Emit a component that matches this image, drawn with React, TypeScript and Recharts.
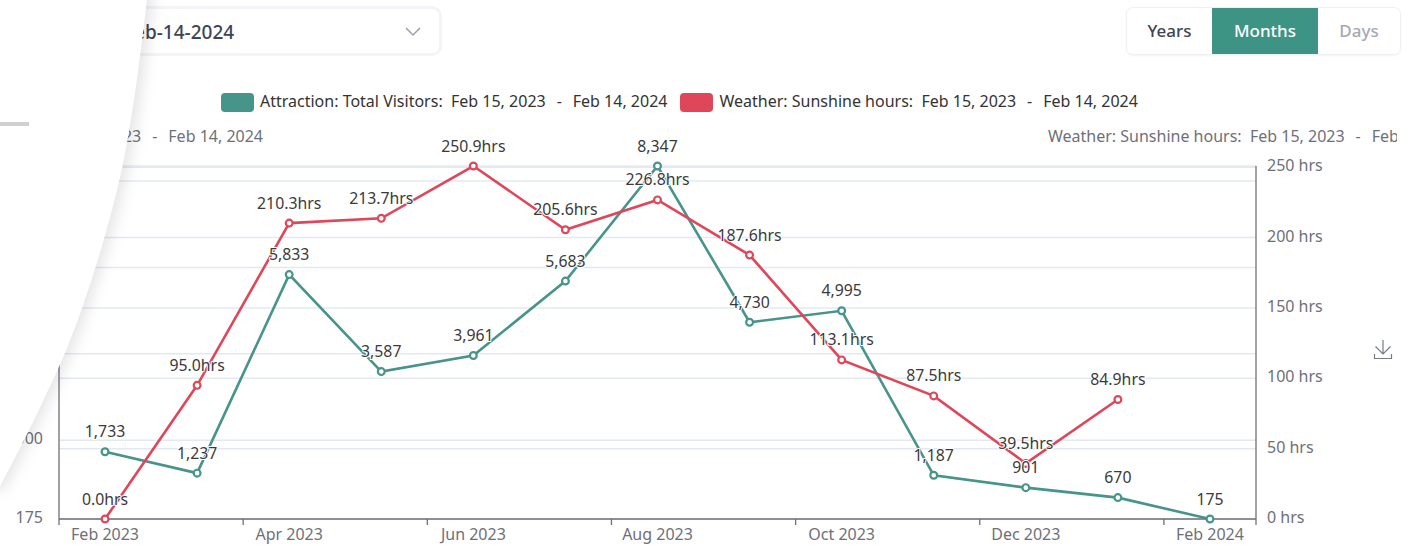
import React from "react";
import { ComposedChart, Line, XAxis, YAxis, CartesianGrid, LabelList } from "recharts";

const months = ["Feb 2023","Mar 2023","Apr 2023","May 2023","Jun 2023","Jul 2023","Aug 2023","Sep 2023","Oct 2023","Nov 2023","Dec 2023","Jan 2024","Feb 2024"];
const visitors = [1733,1237,5833,3587,3961,5683,8347,4730,4995,1187,901,670,175];
const sunshine: (number | null)[] = [0,95.0,210.3,213.7,250.9,205.6,226.8,187.6,113.1,87.5,39.5,84.9,null];
const leftTicks = [175,2000,4000,6000,8000,8347];
const rightTicks = [0,50,100,150,200,250];
const visitorsName = "Attraction: Total Visitors:\u00a0\u00a0Feb 15, 2023\u00a0\u00a0\u2009-\u2009\u00a0\u00a0Feb 14, 2024";
const sunshineName = "Weather: Sunshine hours:\u00a0\u00a0Feb 15, 2023\u00a0\u00a0\u2009-\u2009\u00a0\u00a0Feb 14, 2024";

const data = months.map((m, i) => ({ month: m, visitors: visitors[i], sunshine: sunshine[i] }));

const FONT = '"Noto Sans", sans-serif';
const GREEN = "#46948a";
const RED = "#e0465a";
const AXIS = "#6e7079";
const GRID = "#e3e8f3";
const W = 1411, H = 546;
const PLOT_LEFT = 59, PLOT_RIGHT = 155;
const HALF_BAND = (W - PLOT_LEFT - PLOT_RIGHT) / months.length / 2;

const XTick = (p: any) => {
  const { x, payload } = p;
  const axisY = 519;
  const last = payload.value === months[months.length - 1];
  return (
    <g>
      <line x1={x - HALF_BAND} x2={x - HALF_BAND} y1={axisY} y2={axisY + 6} stroke={AXIS} strokeWidth={1.3} />
      {last && <line x1={x + HALF_BAND} x2={x + HALF_BAND} y1={axisY} y2={axisY + 6} stroke={AXIS} strokeWidth={1.3} />}
      <text x={x} y={axisY + 21} textAnchor="middle" fill={AXIS} fontSize={16} fontFamily={FONT}>{payload.value}</text>
    </g>
  );
};

const haloLabel = (fmt: (v: number) => string) => (p: any) => {
  const { x, y, value } = p;
  if (value === null || value === undefined) return null;
  return (
    <text x={x} y={y - 14.5} textAnchor="middle" fill="#3a3a3a" fontSize={15.8} fontFamily={FONT}
      stroke="#fff" strokeWidth={2} paintOrder="stroke" strokeLinejoin="round">{fmt(value)}</text>
  );
};

const abs = (s: React.CSSProperties): React.CSSProperties => ({ position: "absolute", ...s });

export default function App() {
  return (
    <div style={abs({ left: 0, top: 0, width: W, height: H, overflow: "hidden", background: "#fff", fontFamily: FONT })}>
      {/* date picker */}
      <div style={abs({ left: 60, top: 6, width: 376, height: 44, border: "3px solid #f3f4f7", borderRadius: 10 })} />
      <div style={abs({ left: 124, top: 18, fontSize: 19, fontWeight: 500, color: "#3d4457", lineHeight: "28px" })}>Feb-14-2024</div>
      <svg style={abs({ left: 404, top: 26 })} width={18} height={12}>
        <polyline points="2,2 9,9 16,2" fill="none" stroke="#9aa0ad" strokeWidth={1.5} />
      </svg>

      {/* granularity toggle */}
      <div style={abs({ left: 1126, top: 7, width: 275, height: 48, border: "1px solid #eef0f3", borderRadius: 7, boxSizing: "border-box", boxShadow: "0 1px 2px rgba(0,0,0,0.05)", overflow: "hidden", display: "flex", fontSize: 17, fontWeight: 500, lineHeight: "46px", textAlign: "center" })}>
        <div style={{ width: 85, color: "#3d4457" }}>Years</div>
        <div style={{ width: 106, background: "#3e9484", color: "#fff" }}>Months</div>
        <div style={{ width: 82, color: "#a5a9b5" }}>Days</div>
      </div>

      {/* legend */}
      <div style={abs({ left: 221, top: 91, display: "flex", fontSize: 16, color: "#333", whiteSpace: "nowrap", alignItems: "center", height: 20 })}>
        {[{ c: GREEN, t: visitorsName }, { c: RED, t: sunshineName }].map((it, i) => (
          <div key={i} style={{ display: "flex", alignItems: "center", marginRight: 13 }}>
            <span style={{ width: 33, height: 19, background: it.c, borderRadius: 4, marginRight: 6, marginTop: 2, display: "inline-block" }} />
            <span>{it.t}</span>
          </div>
        ))}
      </div>

      {/* axis names */}
      <div style={abs({ right: W - 263, top: 126, fontSize: 16, color: AXIS, whiteSpace: "nowrap", lineHeight: "20px" })}>{visitorsName}</div>
      <div style={abs({ left: 1048, top: 126, width: 349, overflow: "hidden", fontSize: 16, color: AXIS, whiteSpace: "nowrap", lineHeight: "20px" })}>{sunshineName}</div>

      <div style={abs({ left: 0, top: 0 })}>
        <ComposedChart width={W} height={H} data={data} margin={{ top: 166, right: 0, bottom: 0, left: 0 }}>
          <CartesianGrid yAxisId="left" horizontal vertical={false} stroke={GRID} strokeWidth={1.5} syncWithTicks />
          <CartesianGrid yAxisId="right" horizontal vertical={false} stroke={GRID} strokeWidth={1.5} syncWithTicks />
          <XAxis dataKey="month" scale="band" height={27} interval={1} tick={XTick} tickLine={false} axisLine={{ stroke: AXIS, strokeWidth: 1.3 }} />
          <YAxis yAxisId="left" orientation="left" width={PLOT_LEFT} domain={[175, 8347]} ticks={leftTicks} interval={0}
            tickFormatter={(v: number) => v.toLocaleString("en-US")} tickLine={false} tickMargin={10}
            axisLine={{ stroke: AXIS, strokeWidth: 1.3 }} tick={{ fill: AXIS, fontSize: 16, fontFamily: FONT, dy: -1.5 }} />
          <YAxis yAxisId="right" orientation="right" width={PLOT_RIGHT} domain={[0, 250]} ticks={rightTicks} interval={0}
            tickFormatter={(v: number) => `${v} hrs`} tickLine={false} tickMargin={5}
            axisLine={{ stroke: AXIS, strokeWidth: 1.3 }} tick={{ fill: AXIS, fontSize: 16, fontFamily: FONT, dy: -1.5 }} />
          <Line yAxisId="left" dataKey="visitors" name="Attraction: Total Visitors" stroke={GREEN} strokeWidth={2.6}
            dot={{ r: 3.4, fill: "#fff", stroke: GREEN, strokeWidth: 2.2 }} isAnimationActive={false} />
          <Line yAxisId="right" dataKey="sunshine" name="Weather: Sunshine hours" stroke={RED} strokeWidth={2.6}
            dot={{ r: 3.4, fill: "#fff", stroke: RED, strokeWidth: 2.2 }} isAnimationActive={false} />
          <Line yAxisId="left" dataKey="visitors" stroke="none" dot={false} legendType="none" isAnimationActive={false}>
            <LabelList dataKey="visitors" content={haloLabel((v) => v.toLocaleString("en-US"))} />
          </Line>
          <Line yAxisId="right" dataKey="sunshine" stroke="none" dot={false} legendType="none" isAnimationActive={false}>
            <LabelList dataKey="sunshine" content={haloLabel((v) => `${v.toFixed(1)}hrs`)} />
          </Line>
        </ComposedChart>
      </div>

      {/* download icon */}
      <svg style={abs({ left: 1373, top: 339 })} width={20} height={21} fill="none" stroke="#777b86" strokeWidth={1.2}>
        <path d="M10 1 V14 M2.5 7.5 L10 15 L17.5 7.5 M1.5 15 V19.5 H18.5 V15" />
      </svg>

      {/* slide-over panel */}
      <svg style={abs({ left: 0, top: 0, filter: "drop-shadow(6px 0 7px rgba(0,0,0,0.1))", overflow: "visible" })} width={W} height={H} pointerEvents="none">
        <path d="M-30 -10 L148 -10 C140 60 130 140 117 190 C105 240 85 305 65 353 C48 392 25 440 -2 490 L-30 490 Z" fill="#fff" />
      </svg>
      <div style={abs({ left: 0, top: 122, width: 29, height: 4, background: "#d0d0d0" })} />
    </div>
  );
}
